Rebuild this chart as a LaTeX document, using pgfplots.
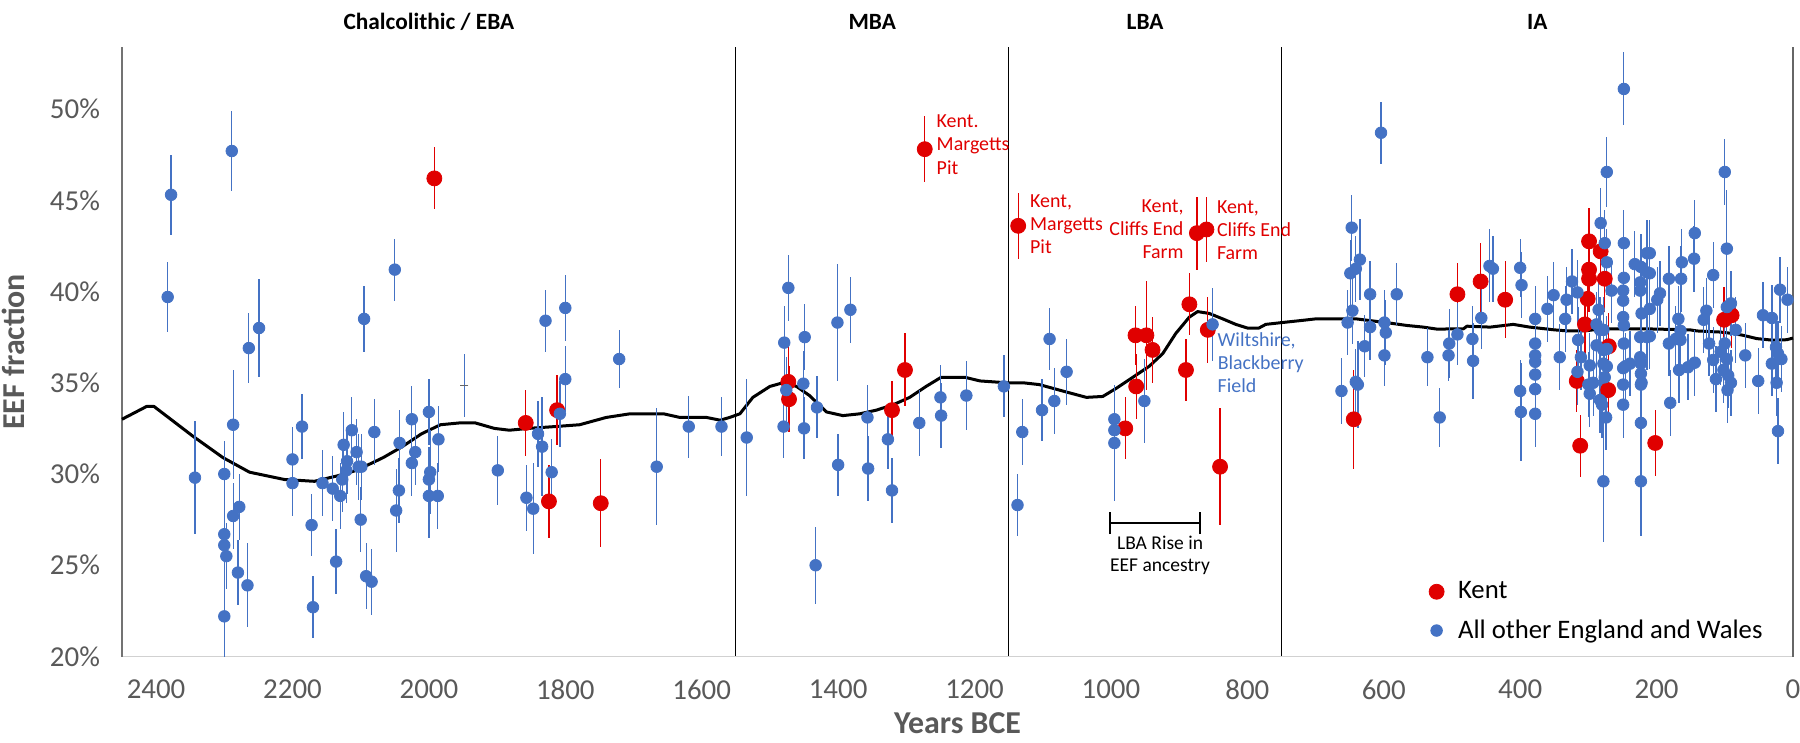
\documentclass[border=0pt]{standalone}
\usepackage{pgfplots}
\usepackage{pgfplotstable}
\usepackage{fontspec}
\setmainfont{Carlito}
\pgfplotsset{compat=1.18}
\definecolor{kentred}{RGB}{224,0,0}
\definecolor{engblue}{RGB}{68,114,196}
\definecolor{tickgray}{RGB}{89,89,89}

\pgfplotstableread{
x y e
2378 45.3 2.2
2289 47.7 2.2
2050 41.2 1.7
2383 39.7 1.9
2264 36.9 1.9
2249 38.0 2.7
2095 38.5 1.8
1829 38.4 1.7
1800 39.1 1.8
2343 29.8 3.1
2300 30.0 1.8
2300 26.7 1.8
2300 26.1 1.8
2297 25.5 1.8
2300 22.2 2.2
2287 32.7 3.0
2287 27.7 1.8
2278 28.2 1.8
2280 24.6 1.8
2266 23.9 2.3
2200 30.8 1.8
2200 29.5 1.8
2186 32.6 1.8
2172 27.2 1.7
2170 22.7 1.7
2156 29.5 1.8
2141 29.2 1.8
2136 25.2 1.8
2130 28.8 1.8
2127 29.7 1.8
2125 31.6 1.8
2121 30.2 1.8
2120 30.7 1.8
2113 32.4 1.8
2106 31.2 1.8
2103 30.4 1.8
2099 30.4 1.8
2100 27.5 1.8
2092 24.4 1.8
2084 24.1 1.8
2080 32.3 1.8
2048 28.0 2.3
2044 29.1 1.8
2043 31.7 1.8
2025 33.0 1.8
2025 30.6 1.8
2020 31.2 1.8
2000 33.4 1.8
1998 30.1 2.3
2000 29.7 1.8
2000 28.8 2.3
1987 28.8 1.8
1986 31.9 1.8
1899 30.2 1.9
1857 28.7 1.8
1847 28.1 2.5
1840 32.2 1.8
1834 31.5 2.7
1808 33.3 1.8
1820 30.1 1.8
1800 35.2 1.8
1721 36.3 1.6
1666 30.4 3.2
1619 32.6 1.7
1571 32.6 1.6
1534 32.0 3.2
1473 40.2 1.8
1479 37.2 2.0
1449 37.5 1.8
1401 38.3 3.2
1382 39.0 1.8
1476 34.6 1.8
1451 34.95 1.8
1431 33.65 1.7
1480 32.6 1.7
1450 32.5 1.7
1433 25.0 2.1
1400 30.5 1.7
1357 33.1 1.8
1356 30.3 1.8
1327 31.9 1.6
1321 29.1 1.8
1281 32.8 1.8
1250 34.2 1.8
1249 33.2 1.8
1212 34.3 1.9
1157 34.8 1.7
1130 32.3 1.8
1137 28.3 1.7
1090 37.4 1.7
1101 33.5 1.7
1083 34.0 1.8
1065 35.6 1.8
995 33.0 1.9
995 32.4 1.8
995 31.7 3.2
951 34.0 2.3
851 38.2 2.0
604 48.7 1.7
647 43.5 1.8
635 41.75 2.2
641 41.25 1.8
649 41.0 1.8
620 39.85 1.8
581 39.85 1.7
646 38.95 1.8
653 38.3 1.8
620 38.05 1.8
599 38.3 1.8
597 37.75 1.8
628 37.0 1.7
599 36.5 1.7
662 34.55 1.8
641 35.05 1.8
638 34.9 2.4
536 36.4 1.6
518 33.1 1.6
504 37.15 1.9
505 36.5 1.4
492 37.65 1.7
470 37.4 1.8
469 36.2 2.1
457 38.55 1.7
445 41.4 2.0
440 41.25 1.8
400 41.3 1.6
398 40.35 1.8
400 34.55 1.7
399 33.4 2.7
248 51.1 2.0
273 46.55 1.9
282 43.75 1.9
276 42.65 1.8
248 42.65 1.8
273 41.6 1.8
324 40.55 1.8
316 39.95 1.8
351 39.8 1.8
360 39.05 1.8
332 39.55 1.8
248 40.75 1.8
232 41.5 1.8
214 42.1 1.8
223 41.35 1.8
214 41.05 1.8
224 40.5 1.8
224 40.05 1.8
266 40.05 1.8
249 40.05 1.8
378 38.5 1.8
334 38.5 1.8
378 37.15 1.8
378 36.5 1.8
378 36.15 1.8
378 35.45 1.8
378 34.65 1.8
378 33.3 1.8
342 36.4 1.8
315 37.35 1.8
311 36.4 1.8
316 35.6 1.8
298 35.95 1.8
300 34.9 1.8
298 34.4 1.8
278 29.6 3.3
223 29.6 3.0
223 32.8 1.8
274 33.1 1.8
280 33.8 1.8
283 34.05 1.8
249 33.8 1.8
249 34.9 1.8
249 35.8 1.8
223 34.9 1.8
223 35.5 1.8
223 36.05 1.8
248 37.15 1.8
239 36.05 1.8
278 36.05 1.8
276 35.3 1.8
288 37.05 1.8
273 36.85 1.8
214 37.5 1.8
248 38.15 1.8
288 38.2 1.8
278 37.9 1.8
285 39.0 1.8
283 37.9 1.8
278 36.8 1.8
273 35.9 1.8
249 39.5 1.8
249 38.6 1.8
246 35.9 1.8
222 38.8 1.8
224 37.5 1.8
224 36.4 1.8
222 35.0 1.8
293 35.0 1.8
210 42.1 1.8
210 41.0 1.8
144 43.2 1.8
145 41.8 1.8
163 41.6 1.8
164 40.7 1.8
182 40.7 1.8
100 46.55 1.8
97 42.35 3.2
117 40.9 1.8
195 39.9 1.8
199 39.55 1.8
210 39.05 1.8
127 38.95 1.8
168 38.5 1.8
165 37.85 1.8
131 38.45 1.8
210 37.55 1.8
182 37.15 1.8
172 37.4 1.8
165 37.35 1.8
123 37.15 1.8
167 35.7 1.8
154 35.85 1.8
144 36.1 1.8
180 33.9 1.8
117 36.25 1.8
113 35.2 1.8
106 36.7 1.8
100 37.15 1.8
97 36.3 1.8
102 35.7 1.8
95 35.4 1.8
91 35.0 1.8
96 34.6 1.8
97 39.15 1.8
91 39.35 1.8
84 37.9 1.8
70 36.5 1.8
51 35.1 1.8
44 38.7 1.8
31 38.55 1.8
19 40.1 1.8
8 39.55 1.8
25 36.95 1.8
22 36.6 1.8
17 36.3 1.8
31 36.05 1.8
24 35.0 1.8
22 32.35 1.8
}\bluedata

\pgfplotstableread{
x y e
1992 46.2 1.7
1858 32.8 1.8
1824 28.5 2.0
1812 33.5 1.9
1748 28.4 2.4
1473 35.05 2.0
1472 34.1 1.8
1321 33.5 1.6
1302 35.7 2.0
1273 47.8 1.8
1136 43.6 1.8
979 32.5 1.7
964 37.6 1.6
948 37.6 3.0
939 36.8 1.8
963 34.8 1.8
885 39.3 1.7
890 35.7 1.7
874 43.2 2.0
860 43.4 1.8
858 37.9 1.8
840 30.4 3.2
644 33.0 2.7
492 39.85 1.7
458 40.55 2.1
422 39.55 2.1
299 42.75 1.8
282 42.2 1.8
299 41.2 1.8
299 40.7 1.8
276 40.7 1.8
301 39.6 1.8
317 35.1 1.7
312 31.55 1.7
202 31.7 1.8
271 34.6 1.8
305 38.2 1.8
270 37.0 1.8
101 38.45 1.8
90 38.7 1.8
}\reddata

\pgfplotstableread{
x y
2450 33.0
2414 33.7
2403 33.7
2347 32.1
2302 30.9
2263 30.1
2212 29.7
2168 29.6
2134 29.9
2106 30.2
2067 30.9
2039 31.5
2011 32.2
1983 32.7
1955 32.8
1932 32.8
1904 32.5
1882 32.4
1854 32.5
1815 32.6
1779 32.7
1740 33.1
1705 33.3
1656 33.3
1632 33.1
1593 33.1
1573 32.95
1559 33.1
1544 33.3
1525 34.2
1500 34.8
1481 35.0
1461 34.8
1442 34.3
1417 33.4
1393 33.2
1368 33.3
1344 33.5
1319 33.8
1295 34.2
1271 34.8
1249 35.3
1214 35.3
1192 35.1
1153 35.0
1129 35.0
1105 34.9
1066 34.5
1036 34.2
1012 34.25
992 34.7
968 35.3
944 35.9
924 36.6
905 37.7
885 38.6
873 38.9
856 38.8
836 38.5
817 38.2
800 38.0
783 38.0
773 38.2
749 38.3
724 38.4
700 38.5
640 38.5
591 38.27
566 38.14
542 38.05
522 37.94
483 37.96
478 38.1
444 38.05
410 38.2
386 38.05
350 37.9
334 37.85
303 37.85
283 37.95
210 37.95
151 37.9
141 37.84
107 37.78
88 37.7
73 37.6
53 37.42
29 37.33
9 37.36
0 37.45
}\curvedata

\begin{document}
\begin{tikzpicture}
\useasboundingbox (0,0) rectangle (900bp,371.5bp);
\begin{axis}[
  at={(61bp,43.25bp)}, anchor=south west,
  scale only axis, width=835.5bp, height=304.75bp,
  x dir=reverse, xmin=0, xmax=2450, ymin=20, ymax=53.4,
  clip=false,
  axis line style={draw=none},
  major tick length=0pt,
  xtick={0,200,...,2400},
  ytick={20,25,...,50},
  yticklabel={\pgfmathprintnumber{\tick}\%},
  /pgf/number format/.cd, 1000 sep={}, assume math mode=true,
  /pgfplots/.cd,
  tick label style={font=\fontsize{14.5}{17}\selectfont, text=tickgray},
  xticklabel style={yshift=-8.3bp},
  yticklabel style={xshift=-7.5bp},
  extra x ticks={750,1150,1550},
  extra x tick labels={},
  extra x tick style={grid=major, major grid style={black, line width=0.5bp}},
  xlabel={Years BCE},
  ylabel={EEF fraction},
  label style={font=\bfseries\fontsize{16}{19}\selectfont, text=tickgray},
  xlabel style={at={(axis description cs:0.5,-0.109)}, anchor=center},
  ylabel style={at={(axis description cs:-0.065,0.5)}, anchor=center},
  legend style={draw=none, fill=none, inner sep=0pt,
    at={(axis description cs:0.782,0.0738)}, anchor=west,
    font=\fontsize{13.4}{15.5}\selectfont, row sep=5bp,
    /tikz/every odd column/.append style={column sep=5bp}},
  legend cell align=left,
]
% axis lines
\draw[color=black!18, line width=0.8bp] (axis cs:2450,20) -- (axis cs:0,20);
\draw[color=black!55, line width=0.7bp] (axis cs:2450,20) -- (axis cs:2450,53.4);
\draw[color=black!60, line width=0.7bp] (axis cs:0,20) -- (axis cs:0,53.4);

\addplot[black, line width=1.5bp, line join=round, forget plot] table[x=x,y=y] {\curvedata};

% faint marker-less sample
\addplot[only marks, mark=-, mark size=2bp, color=black!60, forget plot,
  error bars/.cd, y dir=both, y explicit,
  error bar style={color=engblue, line width=0.65bp}, error mark=none]
  coordinates {(1948,34.85) +- (0,1.75)};

\addplot[only marks, mark=*, mark size=3.75bp, color=kentred,
  mark options={draw=kentred, fill=kentred},
  error bars/.cd, y dir=both, y explicit,
  error bar style={color=kentred, line width=0.65bp}, error mark=none]
  table[x=x, y=y, y error=e] {\reddata};
\addlegendentry{Kent}

\addplot[only marks, mark=*, mark size=2.9bp, color=engblue,
  mark options={draw=engblue, fill=engblue},
  error bars/.cd, y dir=both, y explicit,
  error bar style={color=engblue, line width=0.65bp}, error mark=none]
  table[x=x, y=y, y error=e] {\bluedata};
\addlegendentry{All other England and Wales}

% period labels
\begin{scope}[every node/.style={font=\bfseries\fontsize{11.7}{14}\selectfont, text=black}]
\node at (axis cs:2000,54.79) {Chalcolithic / EBA};
\node at (axis cs:1350,54.79) {MBA};
\node at (axis cs:950,54.79) {LBA};
\node at (axis cs:375,54.79) {IA};
\end{scope}

% annotations
\begin{scope}[every node/.style={font=\fontsize{10}{11.6}\selectfont, inner sep=0pt}]
\node[text=kentred, align=left, anchor=west] at (axis cs:1256,48.05) {Kent.\\Margetts\\Pit};
\node[text=kentred, align=left, anchor=west] at (axis cs:1119,43.7) {Kent,\\Margetts\\Pit};
\node[text=kentred, align=right, anchor=east] at (axis cs:893,43.4) {Kent,\\Cliffs End\\Farm};
\node[text=kentred, align=left, anchor=west] at (axis cs:845,43.35) {Kent,\\Cliffs End\\Farm};
\node[text=engblue, align=left, anchor=west] at (axis cs:844,36.1) {Wiltshire,\\Blackberry\\Field};
\node[text=black, align=center, font=\fontsize{9.8}{11.3}\selectfont] at (axis cs:928,25.55) {LBA Rise in\\EEF ancestry};
\end{scope}
\draw[black, line width=1bp] (axis cs:1001,27.3) -- (axis cs:870,27.3);
\draw[black, line width=1bp] (axis cs:1001,26.7) -- (axis cs:1001,27.9);
\draw[black, line width=1bp] (axis cs:870,26.7) -- (axis cs:870,27.9);
\end{axis}
\end{tikzpicture}
\end{document}
